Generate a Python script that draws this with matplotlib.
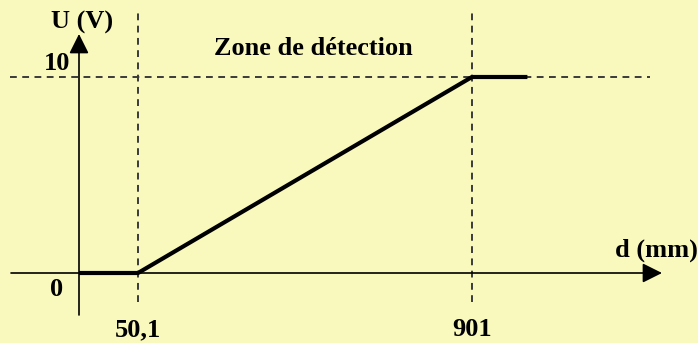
import matplotlib
matplotlib.use('Agg')
import matplotlib.pyplot as plt

# schematic positions (not to scale) of the marked distances, and voltages
d_pos = [0.0, 1.0, 6.66, 7.6]
u_val = [0, 0, 10, 10]
d_ticks = [1.0, 6.66]
d_labels = ['50,1', '901']
u_ticks = [0, 10]
u_labels = ['0', '10']

W, H = 698, 343
X0, Y0 = 79, 273      # origin in pixels
SX, SY = 59.0, 19.6   # pixels per unit

bg = '#F9F9BE'
fig = plt.figure(figsize=(W / 100, H / 100), dpi=100, facecolor=bg)
ax = fig.add_axes([0, 0, 1, 1])
ax.set_facecolor(bg)
ax.set_xlim(-X0 / SX, (W - X0) / SX)
ax.set_ylim(-(H - Y0) / SY, Y0 / SY)
ax.axis('off')

font = dict(family='Liberation Serif', weight='bold', size=19)

# axes arrows
ax.annotate('', xy=(0, (Y0 - 34) / SY), xytext=(0, -(315 - Y0) / SY),
            arrowprops=dict(arrowstyle='-|>', color='black', lw=1.2,
                            mutation_scale=30, shrinkA=0, shrinkB=0))
ax.annotate('', xy=((662 - X0) / SX, 0), xytext=((11 - X0) / SX, 0),
            arrowprops=dict(arrowstyle='-|>', color='black', lw=1.2,
                            mutation_scale=30, shrinkA=0, shrinkB=0))

# dashed guides
dash = dict(color='#3a3a3a', lw=1.4, ls=(0, (3.5, 2.8)))
for xp in d_ticks:
    ax.plot([xp, xp], [-(302 - Y0) / SY, (Y0 - 9) / SY], **dash)
ax.plot([(10 - X0) / SX, (650 - X0) / SX], [u_ticks[1], u_ticks[1]], **dash)

# response curve
ax.plot(d_pos, u_val, color='black', lw=3, solid_joinstyle='miter',
        solid_capstyle='butt')

# labels
for xp, lab in zip(d_ticks, d_labels):
    ax.text(xp, -(330 - Y0) / SY, lab, ha='center', va='center', **font)
for yv, lab in zip(u_ticks, u_labels):
    ax.text(-(X0 - 57) / SX, yv + (-17 if yv == 0 else 14) / SY, lab,
            ha='center', va='center', **font)
ax.text((82 - X0) / SX, (Y0 - 22) / SY, 'U (V)', ha='center', va='center', **font)
ax.text((698 - X0) / SX, (Y0 - 250) / SY, 'd (mm)', ha='right', va='center', **font)
ax.text((313 - X0) / SX, (Y0 - 48) / SY, 'Zone de détection',
        ha='center', va='center', **font)

fig.savefig('out.png', dpi=100, facecolor=bg)
